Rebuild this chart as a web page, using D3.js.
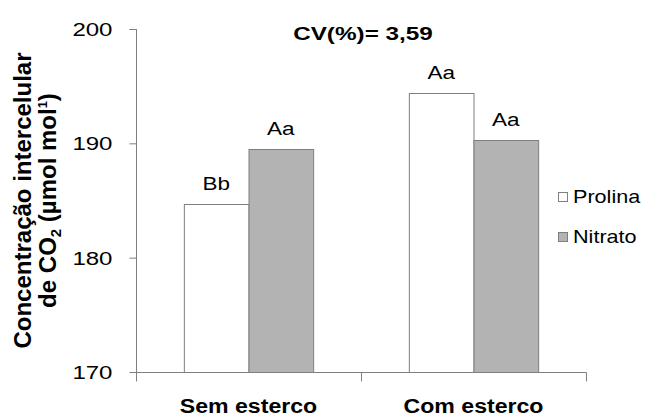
<!DOCTYPE html>
<html>
<head>
<meta charset="utf-8">
<script src="https://cdn.jsdelivr.net/npm/d3@7"></script>
<style>
  html, body { margin: 0; padding: 0; background: #fff; }
  svg { display: block; font-family: "Liberation Sans", Arial, sans-serif; }
</style>
</head>
<body>
<svg id="chart" width="647" height="418"></svg>
<script>
// Intercellular CO2 concentration by manure treatment and nitrogen source
const categories = ["Sem esterco", "Com esterco"];
const seriesNames = ["Prolina", "Nitrato"];
const prolina = [184.7, 194.4];
const nitrato = [189.5, 190.3];
const prolinaLetters = ["Bb", "Aa"];
const nitratoLetters = ["Aa", "Aa"];
const yTicks = [170, 180, 190, 200];
const cvText = "CV(%)= 3,59";

const fills = { Prolina: "#ffffff", Nitrato: "#b3b3b3" };
const edge = "#7f7f7f";

const svg = d3.select("#chart");
const plot = { left: 136, right: 586, top: 29, bottom: 372 };

const y = d3.scaleLinear().domain([170, 200]).range([plot.bottom, plot.top]);
const x0 = d3.scaleBand().domain(categories).range([plot.left, plot.right]).padding(0);
const x1 = d3.scaleBand().domain(seriesNames).range([0, x0.bandwidth()])
  .paddingInner(0).paddingOuter(0.74);

const rows = categories.map((c, i) => ({
  category: c,
  values: [
    { name: "Prolina", value: prolina[i], letter: prolinaLetters[i] },
    { name: "Nitrato", value: nitrato[i], letter: nitratoLetters[i] }
  ]
}));

// horizontally widened text helper
function wideText(sel, sx) {
  sel.each(function () {
    const t = d3.select(this);
    const tx = +t.attr("x"), ty = +t.attr("y");
    t.attr("x", 0).attr("y", 0)
     .attr("transform", `translate(${tx},${ty}) scale(${sx},1)`);
  });
}

// bars
const groups = svg.append("g").selectAll("g").data(rows).join("g")
  .attr("transform", d => `translate(${x0(d.category)},0)`);

groups.selectAll("rect").data(d => d.values).join("rect")
  .attr("x", d => x1(d.name) + 0.5)
  .attr("y", d => Math.round(y(d.value)) + 0.5)
  .attr("width", x1.bandwidth())
  .attr("height", d => plot.bottom - Math.round(y(d.value)))
  .attr("fill", d => fills[d.name])
  .attr("stroke", edge)
  .attr("stroke-width", 1);

groups.selectAll("text.letter").data(d => d.values).join("text")
  .attr("class", "letter")
  .attr("x", d => x1(d.name) + x1.bandwidth() / 2)
  .attr("y", d => y(d.value) - 14)
  .attr("text-anchor", "middle")
  .attr("font-size", 18)
  .attr("fill", "#000")
  .text(d => d.letter)
  .call(wideText, 1.25);

// y axis
const yAxis = svg.append("g")
  .attr("transform", `translate(${plot.left + 0.5},0)`)
  .call(d3.axisLeft(y).tickValues(yTicks).tickSize(7).tickPadding(0).tickFormat(d3.format("d")));
yAxis.select(".domain").attr("stroke", edge).attr("d", `M-7,${y(200) + 0.5}H0V${plot.bottom + 0.5}`);
yAxis.selectAll(".tick line").attr("stroke", edge);
yAxis.selectAll(".tick text").remove();
yAxis.selectAll(".tick").append("text")
  .attr("x", -24).attr("y", 6.5)
  .attr("text-anchor", "end")
  .attr("font-size", 18.5)
  .attr("fill", "#000")
  .text(d => d)
  .call(wideText, 1.3);

// x axis
const xAxis = svg.append("g")
  .attr("transform", `translate(0,${plot.bottom + 0.5})`);
xAxis.append("path")
  .attr("d", `M${plot.left},0H${plot.right + 0.5}`)
  .attr("stroke", edge).attr("fill", "none");
const boundaries = [plot.left, x0(categories[1]), plot.right];
xAxis.selectAll("line.tick").data(boundaries).join("line")
  .attr("class", "tick")
  .attr("x1", d => Math.round(d) + 0.5).attr("x2", d => Math.round(d) + 0.5)
  .attr("y1", 0).attr("y2", 9)
  .attr("stroke", edge);
xAxis.selectAll("text").data(categories).join("text")
  .attr("x", d => x0(d) + x0.bandwidth() / 2)
  .attr("y", 40)
  .attr("text-anchor", "middle")
  .attr("font-size", 21)
  .attr("font-weight", "bold")
  .attr("fill", "#000")
  .text(d => d)
  .call(wideText, 1.1);

// CV annotation
svg.append("text")
  .attr("x", (plot.left + plot.right) / 2 + 2)
  .attr("y", 40)
  .attr("text-anchor", "middle")
  .attr("font-size", 18)
  .attr("font-weight", "bold")
  .attr("fill", "#000")
  .text(cvText)
  .call(wideText, 1.35);

// y axis title
const yTitle = svg.append("text")
  .attr("transform", `translate(0,${(plot.top + plot.bottom) / 2}) rotate(-90)`)
  .attr("text-anchor", "middle")
  .attr("font-size", 24)
  .attr("font-weight", "bold")
  .attr("fill", "#000");
yTitle.append("tspan").attr("x", 0).attr("y", 31).text("Concentração intercelular");
const l2 = yTitle.append("tspan").attr("x", 0).attr("y", 56);
l2.append("tspan").text("de CO");
l2.append("tspan").attr("font-size", 15).attr("dy", 5).text("2");
l2.append("tspan").attr("dy", -5).text(" (µmol mol");
l2.append("tspan").attr("font-size", 13).attr("dy", -9).text("1");
l2.append("tspan").attr("dy", 9).text(")");

// legend
const legend = svg.append("g").selectAll("g").data(seriesNames).join("g")
  .attr("transform", (d, i) => `translate(558,${192 + i * 40})`);
legend.append("rect")
  .attr("x", 0.5).attr("y", 0.5).attr("width", 9).attr("height", 9)
  .attr("fill", d => fills[d]).attr("stroke", edge);
legend.append("text")
  .attr("x", 15).attr("y", 11)
  .attr("font-size", 18)
  .attr("fill", "#000")
  .text(d => d)
  .call(wideText, 1.2);
</script>
</body>
</html>
